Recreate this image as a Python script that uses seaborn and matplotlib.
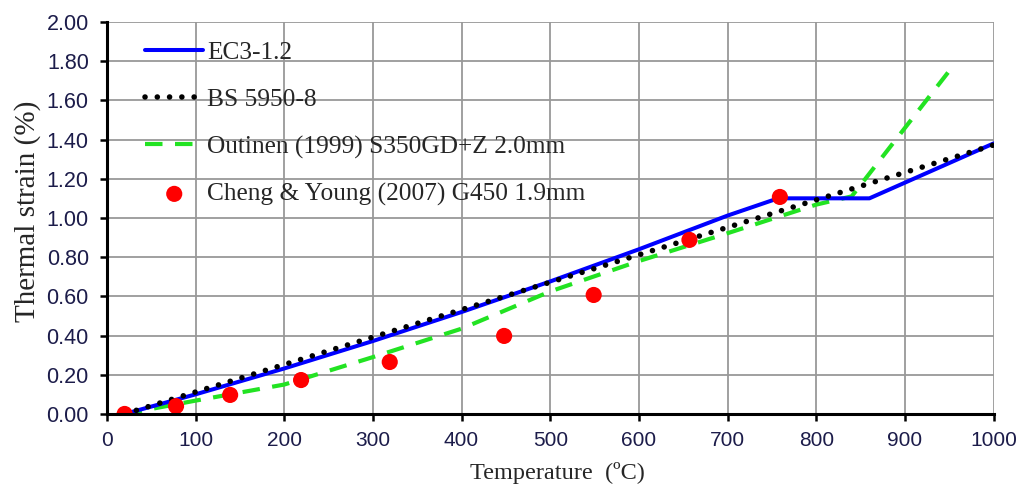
import matplotlib
matplotlib.use("Agg")
import matplotlib.pyplot as plt
import seaborn as sns
import pandas as pd

# ---- data ----
ec3_temp = [20, 100, 200, 300, 400, 500, 600, 700, 757, 860, 1000]
ec3_strain = [0.0, 0.10, 0.232, 0.372, 0.520, 0.676, 0.840, 1.012, 1.10, 1.10, 1.38]

bs_temp = [20, 200, 400, 600, 800, 1000]
bs_strain = [0.0, 0.252, 0.532, 0.812, 1.092, 1.372]

out_temp = [20, 100, 200, 300, 400, 500, 600, 700, 800, 840, 950]
out_strain = [0.0, 0.068, 0.15, 0.29, 0.435, 0.625, 0.78, 0.922, 1.068, 1.11, 1.75]

cy_temp = [20, 78, 139, 219, 319, 448, 549, 657, 759]
cy_strain = [0.0, 0.04, 0.097, 0.173, 0.265, 0.398, 0.607, 0.888, 1.107]

x_ticks = [0, 100, 200, 300, 400, 500, 600, 700, 800, 900, 1000]
y_ticks = [0.0, 0.2, 0.4, 0.6, 0.8, 1.0, 1.2, 1.4, 1.6, 1.8, 2.0]

labels = ["EC3-1.2", "BS 5950-8", "Outinen (1999) S350GD+Z 2.0mm",
          "Cheng & Young (2007) G450 1.9mm"]

sns.set_style("white")
serif = ["Liberation Serif", "DejaVu Serif"]
sans = ["Liberation Sans", "DejaVu Sans"]

fig = plt.figure(figsize=(10.18, 4.87), dpi=100)
ax = fig.add_axes([0.105, 0.150, 0.871, 0.805])

ec3 = pd.DataFrame({"T": ec3_temp, "e": ec3_strain})
bs = pd.DataFrame({"T": bs_temp, "e": bs_strain})
out = pd.DataFrame({"T": out_temp, "e": out_strain})
cy = pd.DataFrame({"T": cy_temp, "e": cy_strain})

sns.lineplot(data=ec3, x="T", y="e", ax=ax, color="#0000FF", lw=2.9,
             label=labels[0], zorder=4)
sns.lineplot(data=bs, x="T", y="e", ax=ax, color="black", lw=4.0,
             label=labels[1], zorder=5)
ax.lines[-1].set_linestyle((0, (0.01, 2.2)))
ax.lines[-1].set_dash_capstyle("round")
sns.lineplot(data=out, x="T", y="e", ax=ax, color="#22E322", lw=3.0,
             label=labels[2], zorder=3)
ax.lines[-1].set_linestyle((0, (4.2, 3.0)))
sns.scatterplot(data=cy, x="T", y="e", ax=ax, color="#FF0000", s=135,
                edgecolor="none", label=labels[3], zorder=6)

ax.set_xlim(0, 1000)
ax.set_ylim(0, 2.0)
ax.set_xticks(x_ticks)
ax.set_yticks(y_ticks)
ax.set_yticklabels([f"{v:.2f}" for v in y_ticks])
ax.set_xticklabels([str(v) for v in x_ticks])
ax.grid(True, color="#999999", lw=1.3)
ax.set_axisbelow(True)
for s in ["top", "right"]:
    ax.spines[s].set_visible(False)
for s in ["left", "bottom"]:
    ax.spines[s].set_color("black")
    ax.spines[s].set_linewidth(2.2)
    ax.spines[s].set_zorder(7)
ax.tick_params(axis="both", which="both", direction="out", length=5,
               width=1.8, color="black", left=True, bottom=True)
ax.tick_params(axis="y", pad=8)
ax.tick_params(axis="x", pad=7)
for t in ax.get_yticklabels():
    t.set_fontfamily(sans)
    t.set_fontsize(15.5)
    t.set_color("#1c1c4a")
for t in ax.get_xticklabels():
    t.set_fontfamily(sans)
    t.set_fontsize(15)
    t.set_color("#1c1c4a")

ax.set_xlabel("Temperature  (ºC)", fontfamily=serif, fontsize=17.5, labelpad=9)
ax.set_ylabel("Thermal strain (%)", fontfamily=serif, fontsize=21, labelpad=4)
ax.xaxis.label.set_x(0.508)
ax.yaxis.label.set_y(0.518)

leg = ax.legend(loc="upper left", frameon=False, prop={"family": serif, "size": 18.3},
                handlelength=2.3, handletextpad=0.15, labelspacing=0.95,
                borderaxespad=0.0, borderpad=0.0, bbox_to_anchor=(0.043, 0.950))

fig.savefig("out.png", dpi=100)
